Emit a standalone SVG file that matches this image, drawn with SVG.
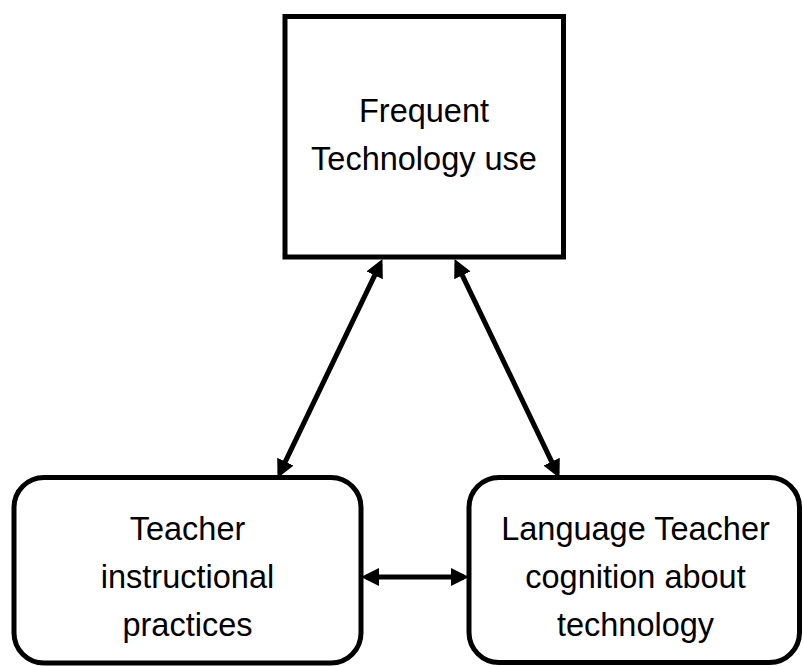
<svg xmlns="http://www.w3.org/2000/svg" width="803" height="666" viewBox="0 0 803 666">
<defs>
<style>
.box{fill:#fff;stroke:#000;stroke-width:5}
.lbl{font-family:"Liberation Sans",Arial,Helvetica,sans-serif;font-size:32.5px;fill:#000;text-anchor:middle}
.con{stroke:#000;stroke-width:5;fill:none;marker-start:url(#ah);marker-end:url(#ah)}
</style>
<marker id="ah" markerUnits="userSpaceOnUse" markerWidth="19" markerHeight="18" refX="13" refY="9" orient="auto-start-reverse" viewBox="0 0 19 18">
<path d="M0,0 L18,9 L0,18 Z" fill="#000"/>
</marker>
</defs>
<rect width="803" height="666" fill="#fff"/>
<g id="n-frequent">
<rect class="box" x="285" y="16.5" width="278.5" height="240.5"/>
<text class="lbl" x="424" y="122">Frequent</text>
<text class="lbl" x="424" y="170">Technology use</text>
</g>
<g id="n-teacher">
<rect class="box" x="14" y="477.5" width="347" height="185.5" rx="30" ry="30"/>
<text class="lbl" x="187.5" y="540">Teacher</text>
<text class="lbl" x="187.5" y="588">instructional</text>
<text class="lbl" x="187.5" y="636">practices</text>
</g>
<g id="n-language">
<rect class="box" x="469" y="477.5" width="330.5" height="185" rx="30" ry="30"/>
<text class="lbl" x="635.5" y="540">Language Teacher</text>
<text class="lbl" x="635.5" y="588">cognition about</text>
<text class="lbl" x="635.5" y="636">technology</text>
</g>
<g id="connectors">
<line class="con" x1="380.3" y1="263.6" x2="279.7" y2="473.4"/>
<line class="con" x1="456.7" y1="263.6" x2="557.3" y2="473.4"/>
<line class="con" x1="366" y1="577" x2="464" y2="577"/>
</g>
</svg>
